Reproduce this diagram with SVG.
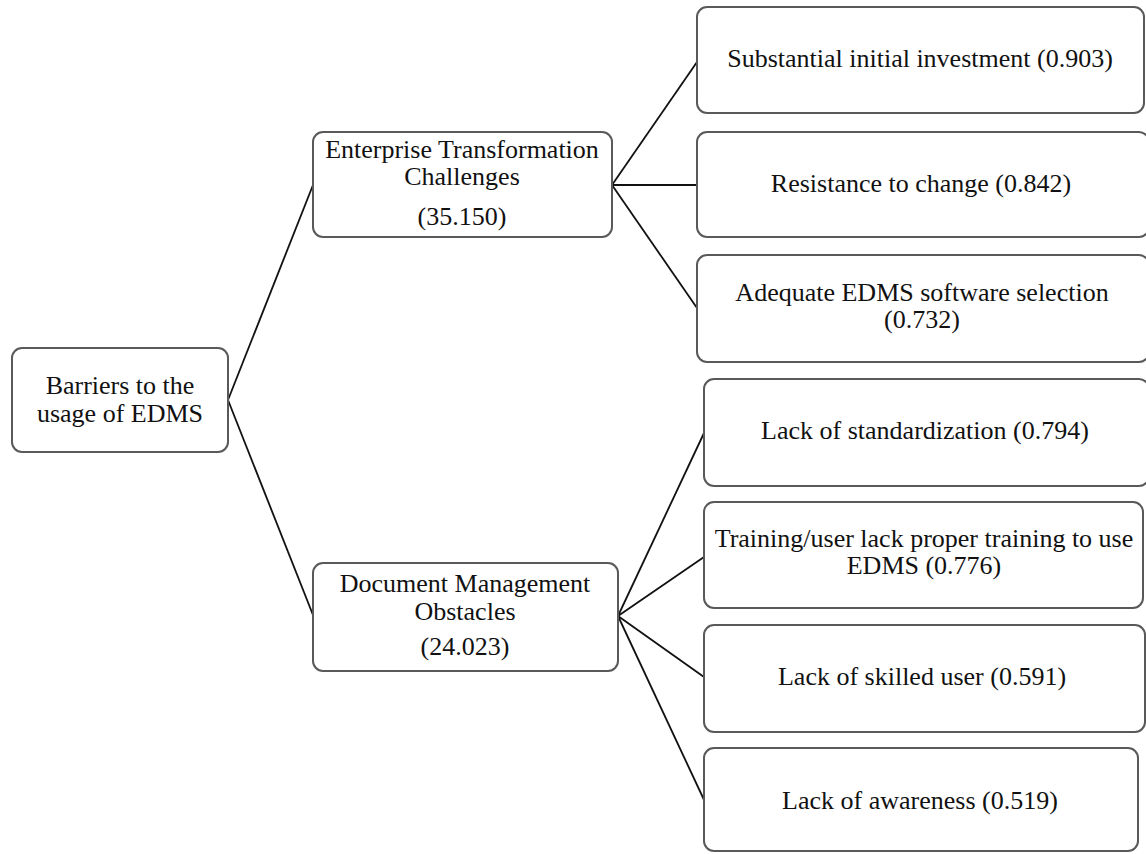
<svg xmlns="http://www.w3.org/2000/svg" width="1146" height="854" viewBox="0 0 1146 854">
<style>
.box{fill:#fff;stroke:#595959;stroke-width:2}
.t{font-family:"Liberation Serif","Times New Roman",serif;font-size:26px;fill:#111;text-anchor:middle}
.c{stroke:#111;stroke-width:1.8;fill:none}
</style>
<rect width="1146" height="854" fill="#fff"/>
<g id="connectors">
<line class="c" x1="228" y1="400" x2="313" y2="185"/>
<line class="c" x1="228" y1="400" x2="313" y2="615"/>
<line class="c" x1="612" y1="185" x2="697" y2="62"/>
<line class="c" x1="612" y1="185" x2="697" y2="185"/>
<line class="c" x1="612" y1="185" x2="697" y2="308"/>
<line class="c" x1="618" y1="616" x2="704" y2="433"/>
<line class="c" x1="618" y1="616" x2="704" y2="557"/>
<line class="c" x1="618" y1="616" x2="704" y2="677"/>
<line class="c" x1="618" y1="616" x2="705" y2="802"/>
</g>
<g id="root">
<rect class="box" x="12" y="348" width="216" height="104" rx="10"/>
<text class="t" x="120" y="394">Barriers to the</text>
<text class="t" x="120" y="422">usage of EDMS</text>
</g>
<g id="etc">
<rect class="box" x="313" y="132" width="299" height="105" rx="10"/>
<text class="t" x="462" y="158">Enterprise Transformation</text>
<text class="t" x="462" y="185">Challenges</text>
<text class="t" x="462" y="225">(35.150)</text>
</g>
<g id="dmo">
<rect class="box" x="313" y="563" width="305" height="108" rx="10"/>
<text class="t" x="465" y="592">Document Management</text>
<text class="t" x="465" y="620">Obstacles</text>
<text class="t" x="465" y="655">(24.023)</text>
</g>
<g id="n1">
<rect class="box" x="697" y="7" width="447" height="106" rx="10"/>
<text class="t" x="920" y="67">Substantial initial investment (0.903)</text>
</g>
<g id="n2">
<rect class="box" x="697" y="132" width="452" height="105" rx="10"/>
<text class="t" x="921" y="192">Resistance to change (0.842)</text>
</g>
<g id="n3">
<rect class="box" x="697" y="255" width="452" height="107" rx="10"/>
<text class="t" x="922" y="300.5">Adequate EDMS software selection</text>
<text class="t" x="922" y="328">(0.732)</text>
</g>
<g id="n4">
<rect class="box" x="704" y="379" width="445" height="107" rx="10"/>
<text class="t" x="925" y="439">Lack of standardization (0.794)</text>
</g>
<g id="n5">
<rect class="box" x="704" y="502" width="439" height="106" rx="10"/>
<text class="t" x="924" y="547">Training/user lack proper training to use</text>
<text class="t" x="924" y="574">EDMS (0.776)</text>
</g>
<g id="n6">
<rect class="box" x="704" y="625" width="441" height="107" rx="10"/>
<text class="t" x="922" y="685">Lack of skilled user (0.591)</text>
</g>
<g id="n7">
<rect class="box" x="704" y="748" width="434" height="103" rx="10"/>
<text class="t" x="920" y="809">Lack of awareness (0.519)</text>
</g>
</svg>
